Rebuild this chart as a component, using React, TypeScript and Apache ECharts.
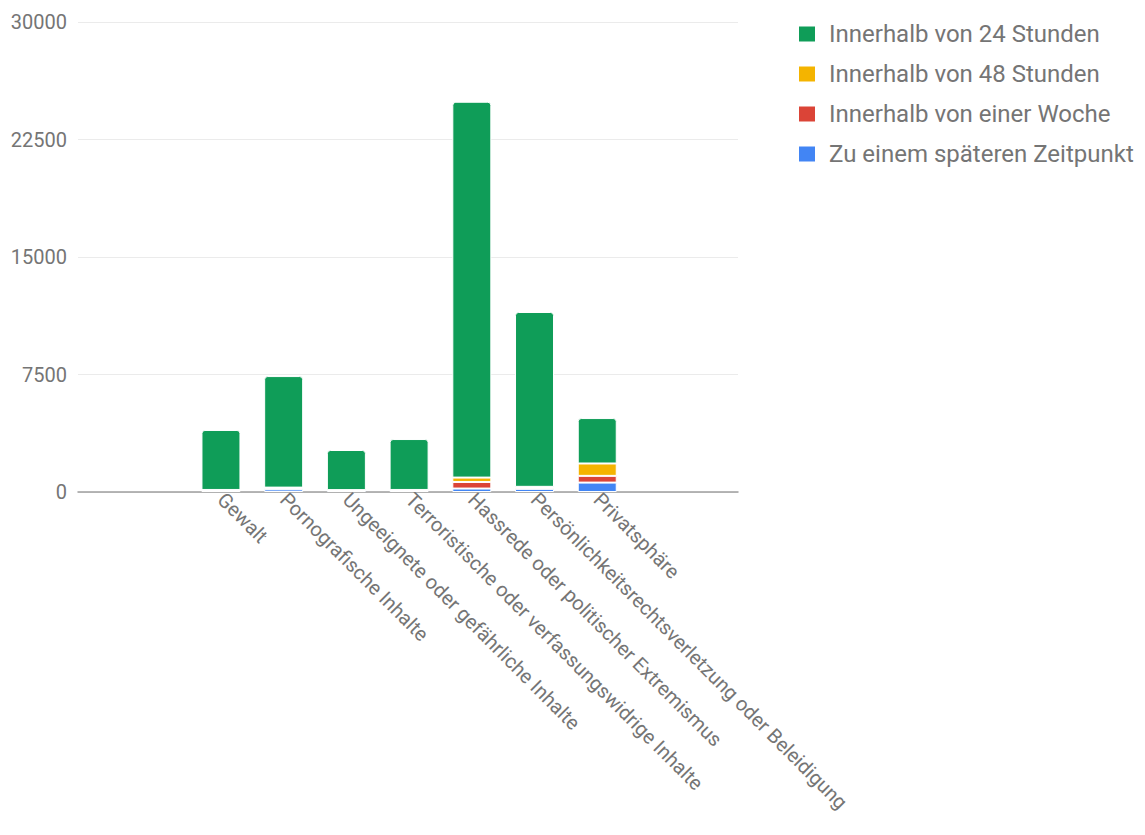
import React, { useEffect, useRef } from "react";
import * as echarts from "echarts";

const categories = [
  "Gewalt",
  "Pornografische Inhalte",
  "Ungeeignete oder gefährliche Inhalte",
  "Terroristische oder verfassungswidrige Inhalte",
  "Hassrede oder politischer Extremismus",
  "Persönlichkeitsrechtsverletzung oder Beleidigung",
  "Privatsphäre",
];

const within24h = [3830, 7120, 2560, 3250, 23990, 11160, 2900];
const within48h = [0, 30, 0, 0, 280, 40, 790];
const withinWeek = [0, 80, 0, 0, 420, 90, 430];
const later = [130, 170, 120, 130, 220, 200, 600];

const seriesNames = [
  "Innerhalb von 24 Stunden",
  "Innerhalb von 48 Stunden",
  "Innerhalb von einer Woche",
  "Zu einem späteren Zeitpunkt",
];
const colors = ["#0f9d58", "#f4b400", "#db4437", "#4285f4"];

const yMax = 30000;
const yInterval = 7500;

export default function App() {
  const ref = useRef<HTMLDivElement>(null);
  useEffect(() => {
    if (!ref.current) return;
    const chart = echarts.init(ref.current, null, { renderer: "svg" });
    const font = "Roboto, sans-serif";
    const mk = (name: string, data: number[], color: string, top: boolean) => ({
      name,
      type: "bar",
      stack: "total",
      xAxisIndex: 1,
      yAxisIndex: 1,
      barWidth: 39,
      data,
      itemStyle: {
        color,
        borderColor: "#ffffff",
        borderWidth: 1,
        borderRadius: top ? [3, 3, 0, 0] : 0,
      },
    });
    chart.setOption({
      animation: false,
      backgroundColor: "#ffffff",
      textStyle: { fontFamily: font },
      legend: {
        orient: "vertical",
        left: 792,
        top: 17,
        itemWidth: 18,
        itemHeight: 17,
        itemGap: 16,
        icon: "rect",
        data: seriesNames,
        textStyle: {
          fontSize: 24,
          lineHeight: 24,
          color: "#757575",
          fontFamily: font,
          padding: [0, 0, 0, 8],
        },
      },
      grid: [
        { left: 78, top: 22, width: 660, height: 470 },
        { left: 189.6, top: 22, width: 439, height: 470 },
      ],
      xAxis: [
        {
          type: "value",
          gridIndex: 0,
          min: 0,
          max: 1,
          axisLine: { show: true, onZero: true, lineStyle: { color: "#9e9e9e", width: 1.5 } },
          axisTick: { show: false },
          axisLabel: { show: false },
          splitLine: { show: false },
        },
        {
          type: "category",
          gridIndex: 1,
          data: categories,
          axisLine: { show: false },
          axisTick: { show: false },
          axisLabel: {
            interval: 0,
            rotate: -45,
            fontSize: 20,
            color: "#757575",
            fontFamily: font,
            margin: 4,
          },
        },
      ],
      yAxis: [
        {
          type: "value",
          gridIndex: 0,
          min: 0,
          max: yMax,
          interval: yInterval,
          axisLine: { show: false },
          axisTick: { show: false },
          axisLabel: {
            fontSize: 20,
            color: "#757575",
            fontFamily: font,
            margin: 11,
            formatter: (v: number) => String(v),
          },
          splitLine: { lineStyle: { color: "#ebebeb", width: 1 } },
        },
        {
          type: "value",
          gridIndex: 1,
          min: 0,
          max: yMax,
          interval: yInterval,
          show: false,
          splitLine: { show: false },
        },
      ],
      series: [
        mk(seriesNames[3], later, colors[3], false),
        mk(seriesNames[2], withinWeek, colors[2], false),
        mk(seriesNames[1], within48h, colors[1], false),
        mk(seriesNames[0], within24h, colors[0], true),
      ],
    });
    return () => chart.dispose();
  }, []);
  return (
    <div
      ref={ref}
      style={{ position: "fixed", left: 0, top: 0, width: 1145, height: 835 }}
    />
  );
}
